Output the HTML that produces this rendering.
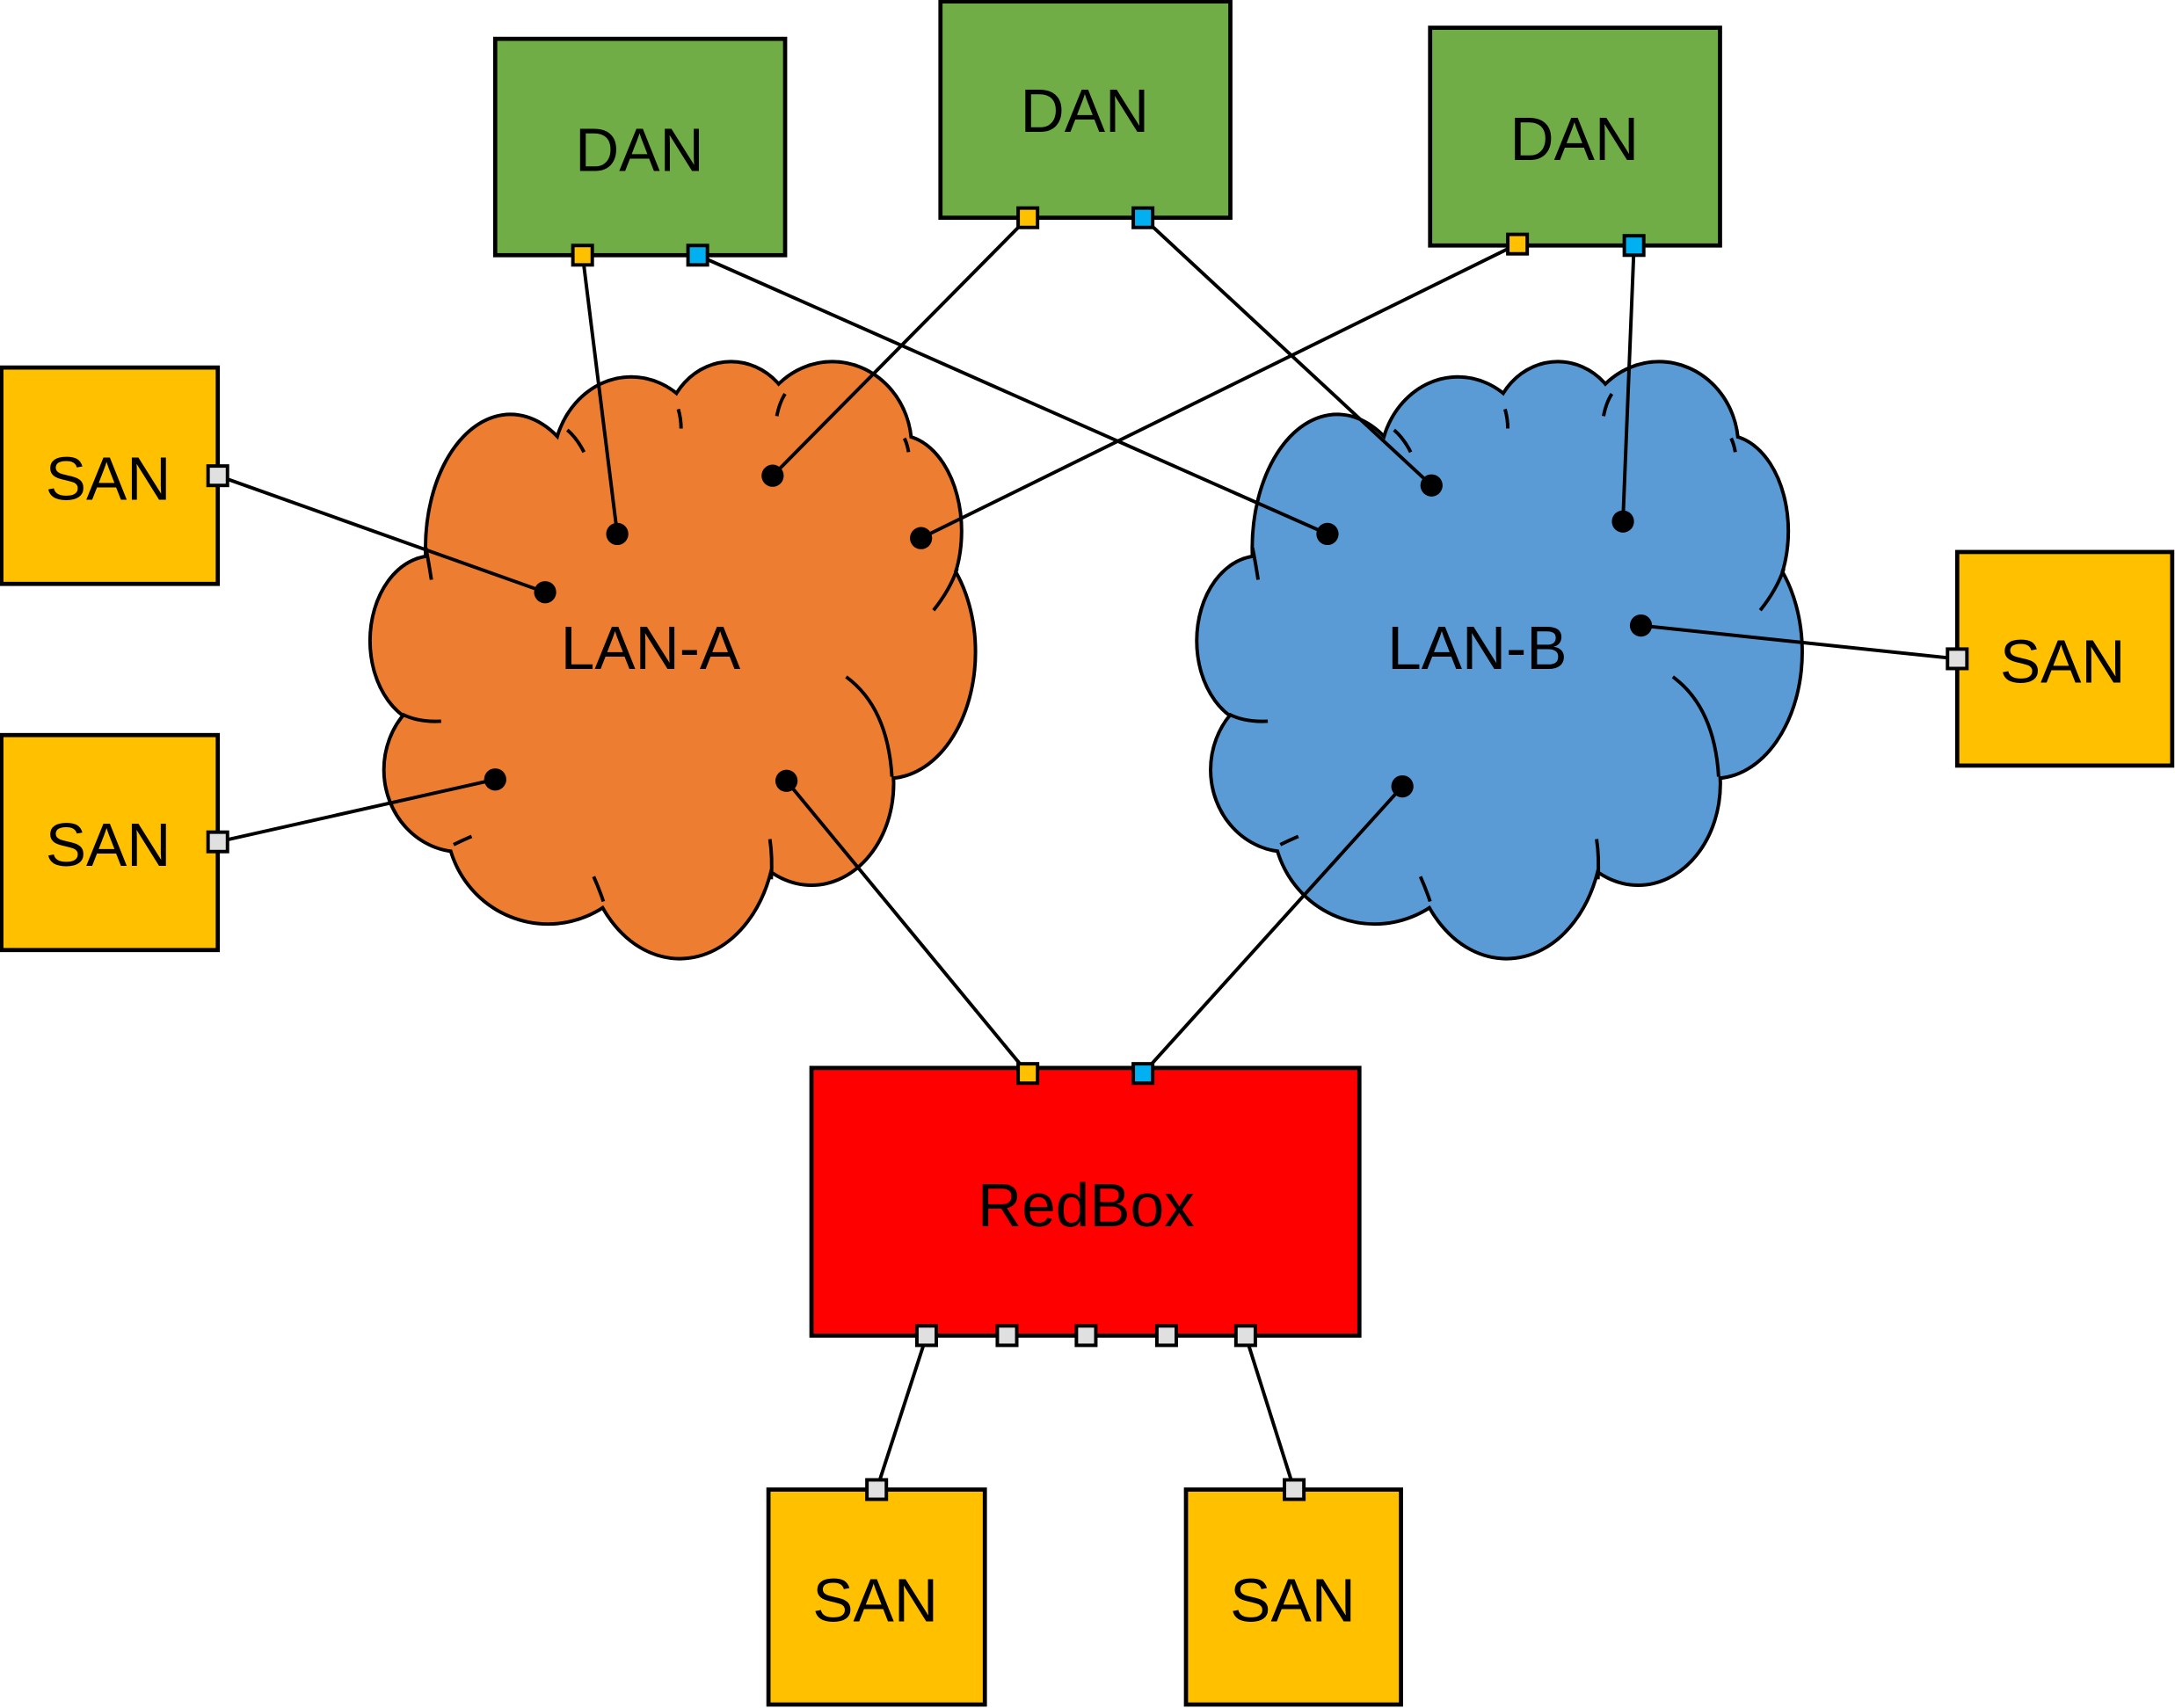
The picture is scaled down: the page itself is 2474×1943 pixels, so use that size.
<!DOCTYPE html>
<html><head><meta charset="utf-8"><style>
html,body{margin:0;padding:0;background:#fff;}
svg{display:block;}
text{font-family:"Liberation Sans",sans-serif;font-size:44px;text-anchor:middle;dominant-baseline:central;fill:#000;}
</style></head><body>
<svg width="2474" height="1943" viewBox="0 0 1568 1231.5" preserveAspectRatio="none" xmlns="http://www.w3.org/2000/svg">
<defs>
<g id="lobes">
<ellipse cx="368" cy="395" rx="60" ry="95"/>
<ellipse cx="455" cy="335" rx="55" ry="62"/>
<ellipse cx="527" cy="312" rx="46" ry="50"/>
<ellipse cx="600" cy="322" rx="56" ry="60"/>
<ellipse cx="648" cy="383" rx="44" ry="68"/>
<ellipse cx="640" cy="470" rx="62" ry="90"/>
<ellipse cx="585" cy="565" rx="58" ry="72"/>
<ellipse cx="490" cy="600" rx="68" ry="90"/>
<ellipse cx="395" cy="592" rx="72" ry="73"/>
<ellipse cx="332" cy="555" rx="54" ry="58"/>
<ellipse cx="312" cy="462" rx="44" ry="60"/>
<ellipse cx="480" cy="470" rx="175" ry="170"/>
</g>
<g id="ticks" fill="none" stroke="#000" stroke-width="2.5">
<path d="M307,395 Q309,405 311,418"/>
<path d="M290,515 Q302,521 318,520"/>
<path d="M327,609 Q333,606 340,603"/>
<path d="M428,632 Q432,641 435,650"/>
<path d="M555,605 Q557,618 556,634"/>
<path d="M610,488 Q640,510 643,560"/>
<path d="M673,440 Q685,425 690,410"/>
<path d="M652,316 Q654,320 655,326"/>
<path d="M560,300 Q562,290 566,284"/>
<path d="M489,295 Q491,302 491,309"/>
<path d="M409,310 Q416,316 421,326"/>
</g>
</defs>
<!-- LAN-A -->
<use href="#lobes" fill="#000" stroke="#000" stroke-width="5"/>
<use href="#lobes" fill="#ED7D31"/>
<use href="#ticks"/>
<!-- LAN-B -->
<g transform="translate(596,0)">
<use href="#lobes" fill="#000" stroke="#000" stroke-width="5"/>
<use href="#lobes" fill="#5B9BD5"/>
<use href="#ticks"/>
</g>
<text x="469" y="467">LAN-A</text>
<text x="1065" y="467">LAN-B</text>
<g stroke="#000" stroke-width="2.5" fill="none">
<line x1="420" y1="184" x2="445" y2="385"/>
<line x1="503" y1="184" x2="957" y2="385"/>
<line x1="741" y1="157" x2="557" y2="343"/>
<line x1="824" y1="157" x2="1032" y2="350"/>
<line x1="1094" y1="176" x2="664" y2="388"/>
<line x1="1178" y1="177" x2="1170" y2="376"/>
<line x1="157" y1="343" x2="393" y2="427"/>
<line x1="157" y1="607" x2="357" y2="562"/>
<line x1="1411" y1="475" x2="1183" y2="451"/>
<line x1="567" y1="563" x2="741" y2="774"/>
<line x1="1011" y1="567" x2="824" y2="774"/>
<line x1="668" y1="963" x2="632" y2="1074"/>
<line x1="898" y1="963" x2="933" y2="1074"/>
</g>
<g fill="#000">
<circle cx="445" cy="385" r="8"/><circle cx="957" cy="385" r="8"/>
<circle cx="557" cy="343" r="8"/><circle cx="1032" cy="350" r="8"/>
<circle cx="664" cy="388" r="8"/><circle cx="1170" cy="376" r="8"/>
<circle cx="393" cy="427" r="8"/><circle cx="357" cy="562" r="8"/>
<circle cx="1183" cy="451" r="8"/><circle cx="567" cy="563" r="8"/>
<circle cx="1011" cy="567" r="8"/>
</g>
<g stroke="#000" stroke-width="3">
<rect x="357" y="28" width="209" height="156" fill="#70AD47"/>
<rect x="678" y="1" width="209" height="156" fill="#70AD47"/>
<rect x="1031" y="20" width="209" height="157" fill="#70AD47"/>
<rect x="1" y="265" width="156" height="156" fill="#FFC000"/>
<rect x="1" y="530" width="156" height="155" fill="#FFC000"/>
<rect x="1411" y="398" width="155" height="154" fill="#FFC000"/>
<rect x="585" y="770" width="395" height="193" fill="#FF0000"/>
<rect x="554" y="1074" width="156" height="155" fill="#FFC000"/>
<rect x="855" y="1074" width="155" height="155" fill="#FFC000"/>
</g>
<text x="461" y="108">DAN</text>
<text x="782" y="80">DAN</text>
<text x="1135" y="100">DAN</text>
<text x="78" y="345">SAN</text>
<text x="78" y="609">SAN</text>
<text x="1487" y="477">SAN</text>
<text x="783" y="869">RedBox</text>
<text x="631" y="1154">SAN</text>
<text x="932" y="1154">SAN</text>
<g stroke="#000" stroke-width="2.5">
<rect x="413" y="177" width="14" height="14" fill="#FFC000"/>
<rect x="496" y="177" width="14" height="14" fill="#00B0F0"/>
<rect x="734" y="150" width="14" height="14" fill="#FFC000"/>
<rect x="817" y="150" width="14" height="14" fill="#00B0F0"/>
<rect x="1087" y="169" width="14" height="14" fill="#FFC000"/>
<rect x="1171" y="170" width="14" height="14" fill="#00B0F0"/>
<rect x="150" y="336" width="14" height="14" fill="#E0E0E0"/>
<rect x="150" y="600" width="14" height="14" fill="#E0E0E0"/>
<rect x="1404" y="468" width="14" height="14" fill="#E0E0E0"/>
<rect x="734" y="767" width="14" height="14" fill="#FFC000"/>
<rect x="817" y="767" width="14" height="14" fill="#00B0F0"/>
<rect x="661" y="956" width="14" height="14" fill="#E0E0E0"/>
<rect x="719" y="956" width="14" height="14" fill="#E0E0E0"/>
<rect x="776" y="956" width="14" height="14" fill="#E0E0E0"/>
<rect x="834" y="956" width="14" height="14" fill="#E0E0E0"/>
<rect x="891" y="956" width="14" height="14" fill="#E0E0E0"/>
<rect x="625" y="1067" width="14" height="14" fill="#E0E0E0"/>
<rect x="926" y="1067" width="14" height="14" fill="#E0E0E0"/>
</g>
</svg>
</body></html>
